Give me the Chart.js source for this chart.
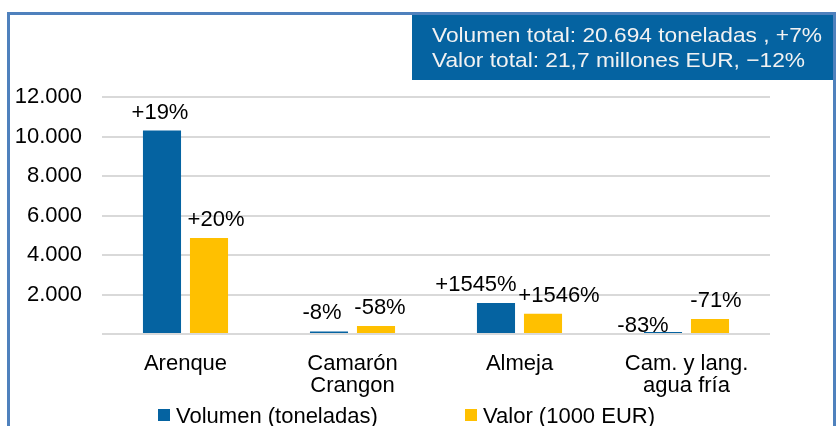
<!DOCTYPE html>
<html>
<head>
<meta charset="utf-8">
<script src="https://cdn.jsdelivr.net/npm/chart.js@4.4.0/dist/chart.umd.min.js"></script>
<style>
  html, body { margin: 0; padding: 0; background: #fff; overflow: hidden; }
  #wrap { width: 836px; height: 426px; position: relative; }
</style>
</head>
<body>
<div id="wrap"><canvas id="chart" width="836" height="426"></canvas></div>
<script>
// categories and values
let categories = [["Arenque"], ["Camarón", "Crangon"], ["Almeja"], ["Cam. y lang.", "agua fría"]];
let volumen = [10300, 130, 1570, 100];
let valor = [4860, 400, 1030, 760];
let volumenPct = ["+19%", "-8%", "+1545%", "-83%"];
let valorPct = ["+20%", "-58%", "+1546%", "-71%"];
let seriesNames = ["Volumen (toneladas)", "Valor (1000 EUR)"];
let infoLines = ["Volumen total: 20.694 toneladas , +7%", "Valor total: 21,7 millones EUR, \u221212%"];

let BLUE = "#0563a1";
let YELLOW = "#ffc000";
let FONT = "'Liberation Sans', Arial, sans-serif";

// small nudges of the labels, like the hand-moved labels in the original
let labelShift = [
    [[-2, 0], [-7, 0], [-20, 0], [-20, 12]],
    [[7, 0], [4, 0], [16, 0], [6, 0]]
];

function fmt(v) {
    return String(v).replace(/\B(?=(\d{3})+(?!\d))/g, ".");
}

let decor = {
    id: "decor",
    beforeDraw(chart) {
        let ctx = chart.ctx;
        ctx.save();
        ctx.fillStyle = "#fff";
        ctx.fillRect(0, 0, chart.width, chart.height);
        ctx.restore();
    },
    afterDatasetsDraw(chart) {
        let ctx = chart.ctx;
        ctx.save();
        ctx.font = "22px " + FONT;
        ctx.fillStyle = "#000";
        ctx.textAlign = "center";
        ctx.textBaseline = "middle";
        [volumenPct, valorPct].forEach((labels, di) => {
            chart.getDatasetMeta(di).data.forEach((bar, i) => {
                let s = labelShift[di][i];
                ctx.fillText(labels[i], bar.x + s[0], bar.y - 18 + s[1]);
            });
        });
        ctx.restore();
    },
    afterDraw(chart) {
        let ctx = chart.ctx;
        ctx.save();
        // frame
        ctx.strokeStyle = "#4f81bd";
        ctx.lineWidth = 3;
        ctx.beginPath();
        ctx.moveTo(8.5, 426);
        ctx.lineTo(8.5, 13.5);
        ctx.lineTo(834.5, 13.5);
        ctx.lineTo(834.5, 426);
        ctx.stroke();

        // info box
        ctx.fillStyle = BLUE;
        ctx.fillRect(412, 15, 421, 65);
        ctx.fillStyle = "#f2f2f2";
        ctx.font = "21px " + FONT;
        ctx.textAlign = "left";
        ctx.textBaseline = "alphabetic";
        let widths = [390, 373];
        let base = [42, 67];
        infoLines.forEach((t, i) => {
            let w = ctx.measureText(t).width;
            ctx.save();
            ctx.translate(432, base[i]);
            ctx.scale(widths[i] / w, 1);
            ctx.fillText(t, 0, 0);
            ctx.restore();
        });

        // legend
        let items = [[158, BLUE], [465, YELLOW]];
        ctx.font = "22px " + FONT;
        ctx.textBaseline = "middle";
        items.forEach((it, i) => {
            ctx.fillStyle = it[1];
            ctx.fillRect(it[0], 409, 12, 12);
            ctx.fillStyle = "#000";
            ctx.fillText(seriesNames[i], it[0] + 18, 417);
        });
        ctx.restore();
    }
};

new Chart(document.getElementById("chart"), {
    type: "bar",
    data: {
        labels: categories,
        datasets: [
            { label: seriesNames[0], data: volumen, backgroundColor: BLUE },
            { label: seriesNames[1], data: valor, backgroundColor: YELLOW }
        ]
    },
    options: {
        responsive: false,
        animation: false,
        events: [],
        datasets: { bar: { categoryPercentage: 0.563, barPercentage: 0.81 } },
        layout: { padding: { top: 97, right: 66, left: 0, bottom: 2 } },
        plugins: { legend: { display: false }, tooltip: { enabled: false } },
        scales: {
            x: {
                grid: { display: false },
                border: { display: false },
                ticks: { color: "#000", font: { family: FONT, size: 22, lineHeight: 1.0 }, padding: 11, maxRotation: 0 },
                afterFit(scale) { scale.height = 90; }
            },
            y: {
                min: 0,
                max: 12000,
                grid: { color: "#d9d9d9", lineWidth: 2, drawTicks: false },
                border: { display: false },
                ticks: {
                    stepSize: 2000,
                    padding: 20,
                    color: "#000",
                    font: { family: FONT, size: 22 },
                    callback: v => v === 0 ? "" : fmt(v)
                },
                afterFit(scale) { scale.width = 102; }
            }
        }
    },
    plugins: [decor]
});
</script>
</body>
</html>
